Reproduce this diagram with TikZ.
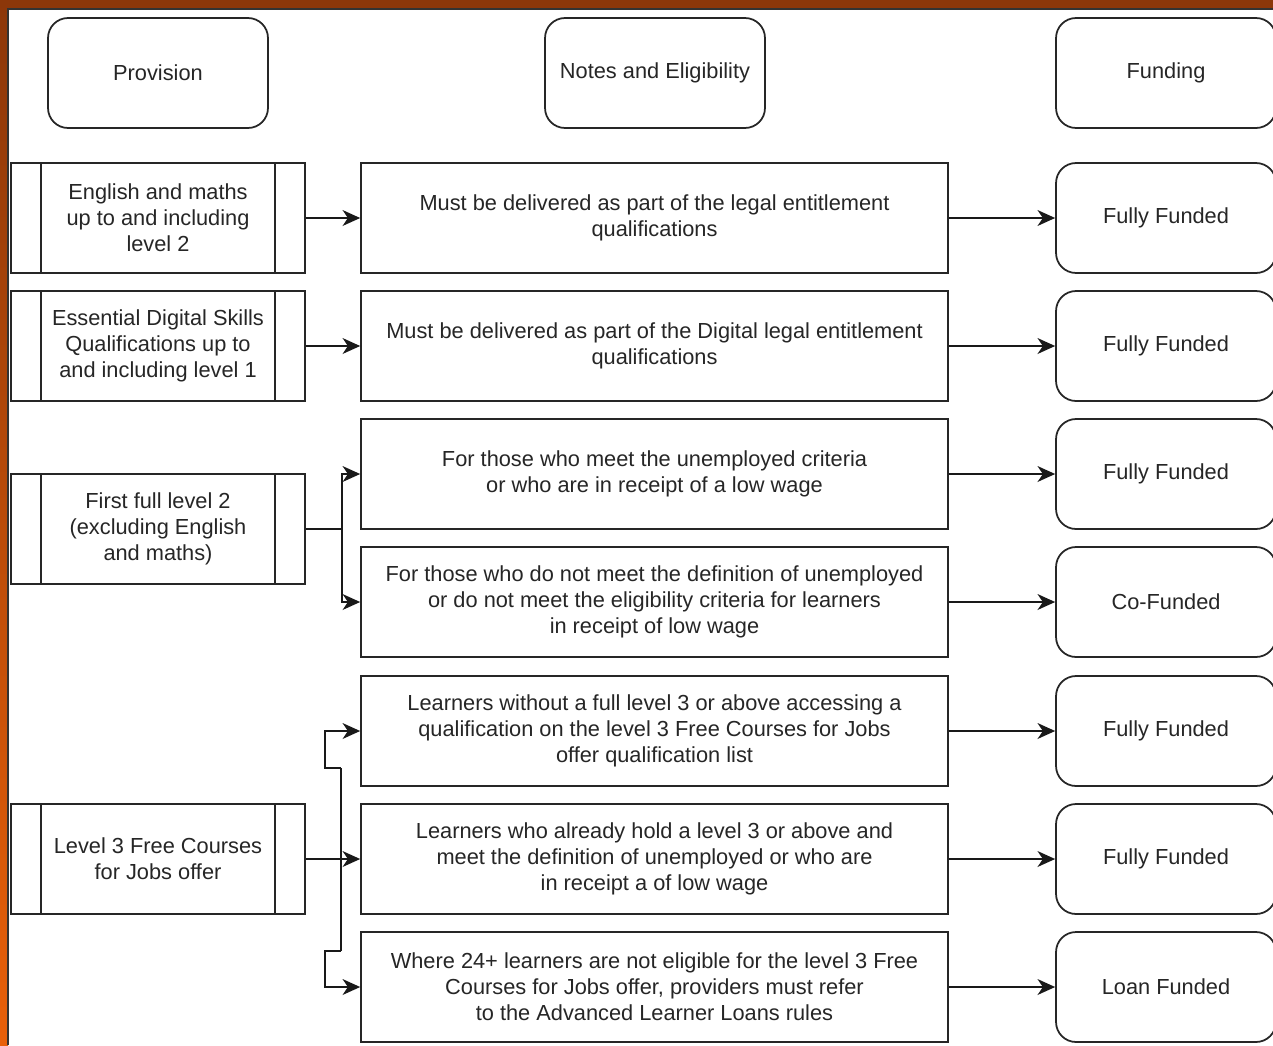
\documentclass[tikz,border=0pt]{standalone}
\usepackage{fontspec}
\setmainfont{Liberation Sans}
\usetikzlibrary{arrows.meta}

\definecolor{framebrown}{RGB}{140,55,10}
\definecolor{frameorange}{RGB}{232,96,10}

\tikzset{
  base/.style={draw=black!85,line width=1pt,align=center,inner sep=2pt,
    font=\fontsize{12.4}{14.7}\selectfont,text=black!85},
  head/.style={base,rounded corners=0.4cm,minimum width=4.4cm,minimum height=2.2cm},
  procbox/.style={base,minimum width=5.88cm,minimum height=2.2cm,
    path picture={
      \draw[line width=1pt,black!85]
        ([xshift=0.6cm]path picture bounding box.north west) -- ([xshift=0.6cm]path picture bounding box.south west)
        ([xshift=-0.6cm]path picture bounding box.north east) -- ([xshift=-0.6cm]path picture bounding box.south east);
    }},
  notebox/.style={base,minimum width=11.74cm,minimum height=2.2cm},
  fundbox/.style={head},
  link/.style={line width=1pt,black!90}
}

\begin{document}
\begin{tikzpicture}[x=0.02cm,y=-0.02cm,>={Stealth[length=10pt,width=9pt,inset=3pt]}]
	% moldura
	\useasboundingbox (0,0) rectangle (1273,1045);
	\fill[white] (0,0) rectangle (1273,1045);
	\shade[top color=framebrown,bottom color=frameorange] (0,0) rectangle (8,1045);
	\fill[framebrown] (0,0) rectangle (1273,8);
	\draw[black!80,line width=1pt] (8,1045) -- (8,9) -- (1273,9);
	% cabecalhos
	\node[head] (hprov) at (158,73) {Provision};
	\node[head] (hnote) at (655,73) {Notes and Eligibility};
	\node[head] (hfund) at (1166,73) {Funding};
	% provisao
	\node[procbox] (l1) at (158,218) {English and maths\\up to and including\\level 2};
	\node[procbox] (l2) at (158,346) {Essential Digital Skills\\Qualifications up to\\and including level 1};
	\node[procbox] (l3) at (158,529) {First full level 2\\(excluding English\\and maths)};
	\node[procbox] (l4) at (158,859) {Level 3 Free Courses\\for Jobs offer};
	% notas
	\node[notebox] (m1) at (654.5,218) {Must be delivered as part of the legal entitlement\\qualifications};
	\node[notebox] (m2) at (654.5,346) {Must be delivered as part of the Digital legal entitlement\\qualifications};
	\node[notebox] (m3) at (654.5,474) {For those who meet the unemployed criteria\\or who are in receipt of a low wage};
	\node[notebox] (m4) at (654.5,602) {For those who do not meet the definition of unemployed\\or do not meet the eligibility criteria for learners\\in receipt of low wage};
	\node[notebox] (m5) at (654.5,731) {Learners without a full level 3 or above accessing a\\qualification on the level 3 Free Courses for Jobs\\offer qualification list};
	\node[notebox] (m6) at (654.5,859) {Learners who already hold a level 3 or above and\\meet the definition of unemployed or who are\\in receipt a of low wage};
	\node[notebox] (m7) at (654.5,987) {Where 24+ learners are not eligible for the level 3 Free\\Courses for Jobs offer, providers must refer\\to the Advanced Learner Loans rules};
	% financiamento
	\node[fundbox] (f1) at (1166,218) {Fully Funded};
	\node[fundbox] (f2) at (1166,346) {Fully Funded};
	\node[fundbox] (f3) at (1166,474) {Fully Funded};
	\node[fundbox] (f4) at (1166,602) {Co-Funded};
	\node[fundbox] (f5) at (1166,731) {Fully Funded};
	\node[fundbox] (f6) at (1166,859) {Fully Funded};
	\node[fundbox] (f7) at (1166,987) {Loan Funded};
	% setas
	\draw[link,->] (l1) -- (m1);
	\draw[link,->] (l2) -- (m2);
	\draw[link,->] (l3.east) -- ++(36,0) |- (m3.west);
	\draw[link,->] (l3.east) -- ++(36,0) |- (m4.west);
	\draw[link,->] (l4) -- (m6);
	\coordinate (jt) at (341,768);
	\coordinate (jb) at (341,951);
	\draw[link] (jt) -- (jb);
	\draw[link,->] (jt) -- ++(-16,0) |- (m5.west);
	\draw[link,->] (jb) -- ++(-16,0) |- (m7.west);
	\foreach \i in {1,...,7}
	  \draw[link,->] (m\i) -- (f\i);
\end{tikzpicture}
\end{document}
